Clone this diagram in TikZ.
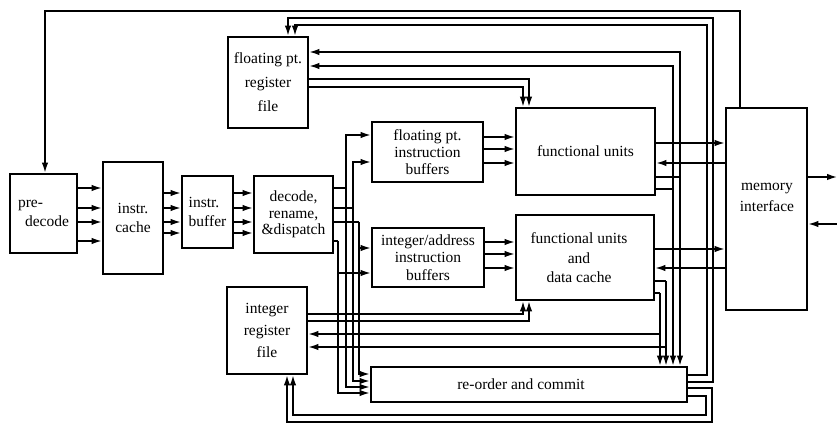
\documentclass[tikz,border=0pt]{standalone}
\usepackage{fontspec}
\setmainfont{Liberation Serif}
\usetikzlibrary{arrows.meta}
\begin{document}
\begin{tikzpicture}[x=1pt,y=-1pt,
  box/.style={draw, line width=2.8pt, inner sep=0pt, align=center},
  fs/.style={font=\fontsize{15.5}{#1}\selectfont},
  wire/.style={line width=1.4pt},
  arr/.style={wire, -{Latex[length=10pt,width=6.5pt]}},
  lbl/.style={inner sep=0pt, align=center}]
\fill[white] (0,0) rectangle (837,427);
\useasboundingbox (0,0) rectangle (837,427);

% boxes
\node[box, fs=19, align=left, minimum width=67pt, minimum height=79pt] (pre) at (43.5,213.5) {pre-\\\hspace*{7pt}decode};
\node[box, fs=19, minimum width=60pt, minimum height=112pt] (cache) at (133,218) {instr.\\cache};
\node[box, fs=19, align=left, minimum width=51pt, minimum height=72pt] (ibuf) at (207.5,212) {instr.\\buffer};
\node[box, fs=16.5, minimum width=79pt, minimum height=77pt] (dec) at (293.5,214.5) {decode,\\rename,\\\&dispatch};
\node[box, fs=24, minimum width=80pt, minimum height=91pt] (fprf) at (268,82.5) {floating pt.\\register\\file};
\node[box, fs=17, minimum width=111pt, minimum height=60pt] (fpib) at (427.5,152) {floating pt.\\instruction\\buffers};
\node[box, fs=19, minimum width=139pt, minimum height=87pt] (fu) at (585.5,151.5) {functional units};
\node[box, minimum width=81pt, minimum height=202pt] (mem) at (766.5,209) {};
\node[lbl, fs=21] (memtxt) at (767,197) {memory\\interface};
\node[box, fs=17.5, minimum width=112pt, minimum height=59pt] (intib) at (428,257.5) {integer/address\\instruction\\buffers};
\node[box, minimum width=138pt, minimum height=85pt] (fudc) at (585,257.5) {};
\node[lbl, fs=19.5] (fudctxt) at (579,258) {functional units\\and\\data cache};
\node[box, fs=22, minimum width=80pt, minimum height=87pt] (irf) at (267,330.5) {integer\\register\\file};
\node[box, minimum width=316pt, minimum height=35pt] (roc) at (529,384.5) {};
\node[lbl, fs=19] (roctxt) at (521,384) {re-order and commit};

% front end
\foreach \y in {188,208,222,241} \draw[arr] (pre.east |- 0,\y) -- (cache.west |- 0,\y);
\foreach \y in {193,208,222,233} \draw[arr] (cache.east |- 0,\y) -- (ibuf.west |- 0,\y);
\foreach \y in {193,208,222,233} \draw[arr] (ibuf.east |- 0,\y) -- (dec.west |- 0,\y);
\foreach \y in {137,149,163} \draw[arr] (fpib.east |- 0,\y) -- (fu.west |- 0,\y);
\foreach \y in {242,254,268} \draw[arr] (intib.east |- 0,\y) -- (fudc.west |- 0,\y);

% dispatch
\coordinate (d1) at (346,188);
\coordinate (d2) at (353,208);
\coordinate (d3) at (359,222);
\coordinate (d4) at (338,241);
\draw[wire] (dec.east |- d1) -- (d1);
\draw[wire] (dec.east |- d2) -- (d2);
\draw[wire] (dec.east |- d3) -- (d3);
\draw[wire] (dec.east |- d4) -- (d4);
\draw[arr] (d1) |- (fpib.west |- 0,135);
\draw[arr] (d2) |- (fpib.west |- 0,162);
\draw[arr] (d3) |- (intib.west |- 0,248);
\draw[arr] (d4) |- (intib.west |- 0,273);
\draw[arr] (d3) |- (roc.west |- 0,374);
\draw[arr] (d2) |- (roc.west |- 0,381);
\draw[arr] (d1) |- (roc.west |- 0,387);
\draw[arr] (d4) |- (roc.west |- 0,393);

% register files to functional units
\draw[arr] (fprf.east |- 0,79) -| (529,0 |- fu.north);
\draw[arr] (fprf.east |- 0,87) -| (523,0 |- fu.north);
\draw[arr] (irf.east |- 0,314) -| (523,0 |- fudc.south);
\draw[arr] (irf.east |- 0,321) -| (529,0 |- fudc.south);

% results
\coordinate (f1) at (680,177);
\coordinate (f2) at (673,189);
\coordinate (g1) at (666,281);
\coordinate (g2) at (660,293);
\coordinate (g1b) at (666,347);
\coordinate (g2b) at (660,334);
\draw[wire] (fu.east |- f1) -- (f1);
\draw[wire] (fu.east |- f2) -- (f2);
\draw[wire] (fudc.east |- g1) -- (g1);
\draw[wire] (fudc.east |- g2) -- (g2);
\draw[arr] (f1) -- (f1 |- roc.north);
\draw[arr] (f2) -- (f2 |- roc.north);
\draw[arr] (g1) -- (g1 |- roc.north);
\draw[arr] (g2) -- (g2 |- roc.north);
\draw[arr] (f1) |- (fprf.east |- 0,52);
\draw[arr] (f2) |- (fprf.east |- 0,66);
\draw[arr] (g1b) -- (irf.east |- g1b);
\draw[arr] (g2b) -- (irf.east |- g2b);

% commit
\draw[arr] (roc.east |- 0,382) -| (713,18) -| (288,0 |- fprf.north);
\draw[arr] (roc.east |- 0,375) -| (707,25) -| (295,0 |- fprf.north);
\draw[arr] (roc.east |- 0,388) -| (712,422) -| (287,0 |- irf.south);
\draw[arr] (roc.east |- 0,396) -| (706,415) -| (293,0 |- irf.south);

% memory interface
\draw[arr] (740,0 |- mem.north) -- (740,11) -| (45,0 |- pre.north);
\draw[arr] (fu.east |- 0,143) -- (mem.west |- 0,143);
\draw[arr] (mem.west |- 0,163) -- (fu.east |- 0,163);
\draw[arr] (fudc.east |- 0,249) -- (mem.west |- 0,249);
\draw[arr] (mem.west |- 0,268) -- (fudc.east |- 0,268);
\coordinate (out) at (837,177);
\coordinate (in) at (837,224);
\draw[arr] (mem.east |- out) -- (out);
\draw[arr] (in) -- (mem.east |- in);
\end{tikzpicture}
\end{document}
